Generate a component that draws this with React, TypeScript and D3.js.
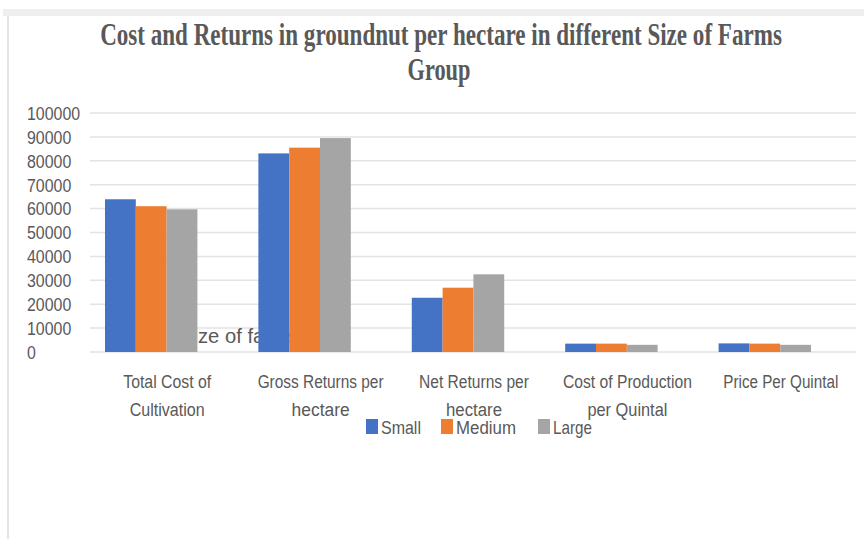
import React, { useLayoutEffect, useRef, useState } from "react";
import * as d3 from "d3";

const categories = [
  ["Total Cost of", "Cultivation"],
  ["Gross Returns per", "hectare"],
  ["Net Returns per", "hectare"],
  ["Cost of Production", "per Quintal"],
  ["Price Per Quintal"],
];
const labelWidths = [
  [88, 75],
  [126, 58],
  [110, 56],
  [129, 80],
  [115],
];
const seriesNames = ["Small", "Medium", "Large"];
const small = [63900, 83100, 22700, 3500, 3600];
const medium = [61000, 85500, 26900, 3500, 3500];
const large = [59700, 89500, 32500, 3000, 3000];
const yTicks = [0, 10000, 20000, 30000, 40000, 50000, 60000, 70000, 80000, 90000, 100000];
const titleLines = ["Cost and Returns in groundnut per hectare in different Size of Farms", "Group"];
const axisTitle = "Size of farms";

const colors = ["#4472C4", "#ED7D31", "#A5A5A5"];
const W = 864;
const H = 539;
const SANS = "'Liberation Sans', Arial, sans-serif";
const SERIF = "'Liberation Serif', 'Times New Roman', serif";

type CTextProps = {
  x: number;
  y: number;
  width: number;
  anchor?: "start" | "middle" | "end";
  size: number;
  family?: string;
  weight?: string;
  fill?: string;
  dy?: string;
  children: string;
};

function CText({ x, y, width, anchor = "start", size, family = SANS, weight = "normal", fill = "#595959", dy = "0", children }: CTextProps) {
  const ref = useRef<SVGTextElement>(null);
  const [sx, setSx] = useState(1);
  useLayoutEffect(() => {
    if (ref.current) {
      const w = ref.current.getComputedTextLength();
      if (w > 0) setSx(width / w);
    }
  }, [width, children, size, family]);
  return (
    <text
      ref={ref}
      transform={`translate(${x},${y}) scale(${sx},1)`}
      dy={dy}
      textAnchor={anchor}
      fontFamily={family}
      fontWeight={weight}
      fontSize={size}
      fill={fill}
    >
      {children}
    </text>
  );
}

export default function App() {
  const series = [small, medium, large];
  const y = d3.scaleLinear().domain([0, 100000]).range([352, 113]);
  const idx = categories.map((_, i) => String(i));
  const x0 = d3
    .scaleBand()
    .domain(idx)
    .range([74.5, 841.5])
    .paddingInner(0.3975)
    .paddingOuter(0.19875);
  const x1 = d3.scaleBand().domain(seriesNames).range([0, x0.bandwidth()]);
  const legendX = [366, 441, 538];
  const legendW = [40, 60, 39];
  return (
    <svg
      width={W}
      height={H}
      style={{ position: "absolute", left: 0, top: 0, background: "#fff" }}
    >
      <rect x={3} y={9} width={861} height={7} fill="#efefef" />
      <rect x={7} y={16} width={2} height={523} fill="#e4e4e4" />
      <CText x={441} y={45} width={682} anchor="middle" size={31} family={SERIF} weight="bold">
        {titleLines[0]}
      </CText>
      <CText x={439} y={80} width={63} anchor="middle" size={31} family={SERIF} weight="bold">
        {titleLines[1]}
      </CText>
      {yTicks.map((t) => (
        <g key={t}>
          <line x1={90} x2={856} y1={y(t)} y2={y(t)} stroke="#e3e3e3" strokeWidth={1.5} />
          <CText x={27} y={y(t)} dy="0.36em" size={19} width={String(t).length * 8.85}>
            {String(t)}
          </CText>
        </g>
      ))}
      <CText x={180} y={336} dy="0.36em" size={20} width={118}>
        {axisTitle}
      </CText>
      {idx.map((c, i) => (
        <g key={c} transform={`translate(${x0(c)},0)`}>
          {seriesNames.map((s, j) => (
            <rect
              key={s}
              x={x1(s)}
              y={y(series[j][i])}
              width={x1.bandwidth()}
              height={y(0) - y(series[j][i])}
              fill={colors[j]}
            />
          ))}
        </g>
      ))}
      {categories.map((lines, i) => {
        const cx = (x0(String(i)) as number) + x0.bandwidth() / 2 + 16;
        return lines.map((l, k) => (
          <CText
            key={i + "-" + k}
            x={cx}
            y={381 + k * 28}
            dy="0.36em"
            anchor="middle"
            size={19}
            width={labelWidths[i][k]}
          >
            {l}
          </CText>
        ));
      })}
      {seriesNames.map((s, j) => (
        <g key={s}>
          <rect x={legendX[j]} y={419} width={12} height={15} fill={colors[j]} />
          <CText x={legendX[j] + 15} y={427} dy="0.36em" size={19} width={legendW[j]}>
            {s}
          </CText>
        </g>
      ))}
    </svg>
  );
}
